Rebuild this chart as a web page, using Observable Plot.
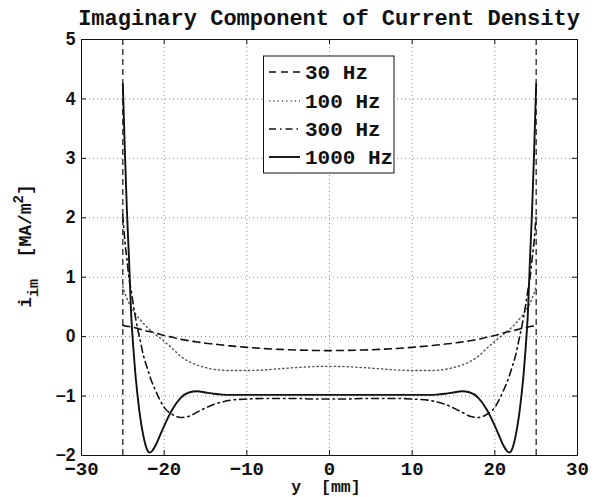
<!DOCTYPE html>
<html>
<head>
<meta charset="utf-8">
<script src="https://cdn.jsdelivr.net/npm/d3@7"></script>
<script src="https://cdn.jsdelivr.net/npm/@observablehq/plot@0.6"></script>
<style>
  body { margin: 0; background: #fff; }
  #chart { width: 597px; height: 497px; }
</style>
</head>
<body>
<div id="chart"></div>
<script>
// ---- data ----
const titleText = "Imaginary Component of Current Density";
const xTicks = [-30, -20, -10, 0, 10, 20, 30];
const yTicks = [-2, -1, 0, 1, 2, 3, 4, 5];
const edgeLines = [-25, 25];
const seriesNames = ["30 Hz", "100 Hz", "300 Hz", "1000 Hz"];

const yPos = [-25, -24.75, -24.5, -24.25, -24, -23.75, -23.5, -23.25, -23, -22.5, -22, -21.75, -21.5, -21, -20.5, -20, -19, -18, -17, -16, -15, -14, -13, -12, -10, -8, -6, -4, -2,
  0,
  2, 4, 6, 8, 10, 12, 13, 14, 15, 16, 17, 18, 19, 20, 20.5, 21, 21.5, 21.75, 22, 22.5, 23, 23.25, 23.5, 23.75, 24, 24.25, 24.5, 24.75, 25];

const i30 = [0.19, 0.18, 0.175, 0.17, 0.16, 0.155, 0.15, 0.14, 0.13, 0.11, 0.09, 0.085, 0.08, 0.06, 0.04, 0.02, -0.01, -0.045, -0.07, -0.09, -0.11, -0.125, -0.14, -0.155, -0.18, -0.2, -0.215, -0.225, -0.232,
  -0.235,
  -0.232, -0.225, -0.215, -0.2, -0.18, -0.155, -0.14, -0.125, -0.11, -0.09, -0.07, -0.045, -0.01, 0.02, 0.04, 0.06, 0.08, 0.085, 0.09, 0.11, 0.13, 0.14, 0.15, 0.155, 0.16, 0.17, 0.175, 0.18, 0.19];

const i100 = [0.85, 0.73, 0.64, 0.56, 0.5, 0.44, 0.39, 0.34, 0.3, 0.22, 0.15, 0.12, 0.09, 0.03, -0.02, -0.08, -0.2, -0.33, -0.42, -0.48, -0.52, -0.55, -0.565, -0.57, -0.57, -0.56, -0.54, -0.52, -0.505,
  -0.5,
  -0.505, -0.52, -0.54, -0.56, -0.57, -0.57, -0.565, -0.55, -0.52, -0.48, -0.42, -0.33, -0.2, -0.08, -0.02, 0.03, 0.09, 0.12, 0.15, 0.22, 0.3, 0.34, 0.39, 0.44, 0.5, 0.56, 0.64, 0.73, 0.85];

const i300 = [2.05, 1.6, 1.3, 0.98, 0.78, 0.55, 0.35, 0.16, 0.0, -0.32, -0.55, -0.66, -0.76, -0.92, -1.07, -1.19, -1.31, -1.36, -1.34, -1.27, -1.2, -1.14, -1.1, -1.07, -1.05, -1.04, -1.04, -1.04, -1.05,
  -1.05,
  -1.05, -1.04, -1.04, -1.04, -1.05, -1.07, -1.1, -1.14, -1.2, -1.27, -1.34, -1.36, -1.31, -1.19, -1.07, -0.92, -0.76, -0.66, -0.55, -0.32, 0.0, 0.16, 0.35, 0.55, 0.78, 0.98, 1.3, 1.6, 2.05];

const i1000 = [4.25, 3.1, 2.1, 1.3, 0.4, -0.15, -0.6, -0.95, -1.25, -1.68, -1.92, -1.95, -1.93, -1.82, -1.66, -1.5, -1.22, -1.03, -0.94, -0.92, -0.94, -0.96, -0.975, -0.98, -0.98, -0.98, -0.98, -0.98, -0.98,
  -0.98,
  -0.98, -0.98, -0.98, -0.98, -0.98, -0.98, -0.975, -0.96, -0.94, -0.92, -0.94, -1.03, -1.22, -1.5, -1.66, -1.82, -1.93, -1.95, -1.92, -1.68, -1.25, -0.95, -0.6, -0.15, 0.4, 1.3, 2.1, 3.1, 4.25];

// ---- layout / styles ----
const W = 597, H = 497;
const mL = 81, mR = 20, mT = 39, mB = 42;
const fw = W - mL - mR, fh = H - mT - mB;
const mono = "'Liberation Mono', 'DejaVu Sans Mono', monospace";
const sans = "'Liberation Sans', Arial, sans-serif";
const styles = [
  {dash: "7,5", width: 1.6, color: "#111"},
  {dash: "1.3,3", width: 1.4, color: "#555"},
  {dash: "7,4,1.5,4", width: 1.6, color: "#111"},
  {dash: null, width: 1.9, color: "#111"}
];
const valueArrays = [i30, i100, i300, i1000];
const series = seriesNames.map((name, k) => ({
  name,
  rows: yPos.map((y, i) => ({y, v: valueArrays[k][i]})),
  ...styles[k]
}));

const fmt = d => (d < 0 ? "\u2212" + Math.abs(d) : String(d));

const plot = Plot.plot({
  width: W, height: H,
  marginLeft: mL, marginRight: mR, marginTop: mT, marginBottom: mB,
  x: {domain: [-30, 30], label: null},
  y: {domain: [-2, 5], label: null},
  style: {background: "white", overflow: "visible"},
  marks: [
    Plot.gridX(xTicks, {stroke: "#888", strokeOpacity: 1, strokeDasharray: "1,3", strokeWidth: 1}),
    Plot.gridY(yTicks, {stroke: "#888", strokeOpacity: 1, strokeDasharray: "1,3", strokeWidth: 1}),
    Plot.ruleX(edgeLines, {x: d => d, stroke: "#111", strokeDasharray: "6,4", strokeWidth: 1.2}),
    ...series.map(s => Plot.line(s.rows, {
      x: "y", y: "v", stroke: s.color, strokeWidth: s.width,
      strokeDasharray: s.dash, curve: "monotone-x"
    })),
    Plot.frame({stroke: "#111", strokeWidth: 1}),
    Plot.tickX(xTicks, {x: d => d, stroke: "#111", insetTop: fh - 5}),
    Plot.tickX(xTicks, {x: d => d, stroke: "#111", insetBottom: fh - 5}),
    Plot.tickY(yTicks, {y: d => d, stroke: "#111", insetRight: fw - 5}),
    Plot.tickY(yTicks, {y: d => d, stroke: "#111", insetLeft: fw - 5}),
    Plot.axisX(xTicks, {anchor: "bottom", tickSize: 0, tickPadding: 6, tickFormat: fmt, label: null}),
    Plot.axisY(yTicks, {anchor: "left", tickSize: 0, tickPadding: 6, tickFormat: fmt, label: null})
  ]
});

document.getElementById("chart").appendChild(plot);
const svg = d3.select(plot);

// style tick labels
svg.selectAll('g[aria-label="x-axis tick label"] text')
  .attr("font-family", mono).attr("font-size", 19).attr("font-weight", "bold").attr("fill", "#111");
svg.selectAll('g[aria-label="y-axis tick label"] text')
  .attr("font-family", sans).attr("font-size", 17.5).attr("font-weight", "bold").attr("fill", "#111");

const cx = mL + fw / 2;

// title
svg.append("text")
  .attr("x", cx).attr("y", 25)
  .attr("text-anchor", "middle")
  .attr("font-family", mono).attr("font-size", 22).attr("font-weight", "bold").attr("fill", "#111")
  .text(titleText);

// x label
svg.append("text")
  .attr("x", 326).attr("y", 492)
  .attr("text-anchor", "middle")
  .attr("font-family", mono).attr("font-size", 16.5).attr("font-weight", "bold").attr("fill", "#111")
  .style("white-space", "pre")
  .text("y  [mm]");

// y label with sub/superscript
const yl = svg.append("text")
  .attr("transform", "translate(31,246) rotate(-90)")
  .attr("text-anchor", "middle")
  .attr("font-family", mono).attr("font-size", 18).attr("font-weight", "bold").attr("fill", "#111")
  .style("white-space", "pre");
yl.append("tspan").text("i");
yl.append("tspan").attr("font-size", 15).attr("dy", 7).text("im");
yl.append("tspan").attr("dy", -7).text("  [MA/m");
yl.append("tspan").attr("font-size", 14).attr("dy", -8).text("2");
yl.append("tspan").attr("dy", 8).text("]");

// legend
const lg = svg.append("g").attr("text-anchor", "start");
lg.append("rect")
  .attr("x", 263.5).attr("y", 56).attr("width", 130.5).attr("height", 117)
  .attr("fill", "white").attr("stroke", "#111").attr("stroke-width", 1);
const rowY = [72, 101, 129, 157];
series.forEach((s, k) => {
  lg.append("line")
    .attr("x1", 269).attr("x2", 300).attr("y1", rowY[k]).attr("y2", rowY[k])
    .attr("stroke", s.color).attr("stroke-width", s.width)
    .attr("stroke-dasharray", s.dash);
  lg.append("text")
    .attr("x", 305).attr("y", rowY[k] + 6.5)
    .attr("text-anchor", "start")
    .attr("font-family", mono).attr("font-size", 21).attr("font-weight", "bold").attr("fill", "#111")
    .text(s.name);
});
</script>
</body>
</html>
